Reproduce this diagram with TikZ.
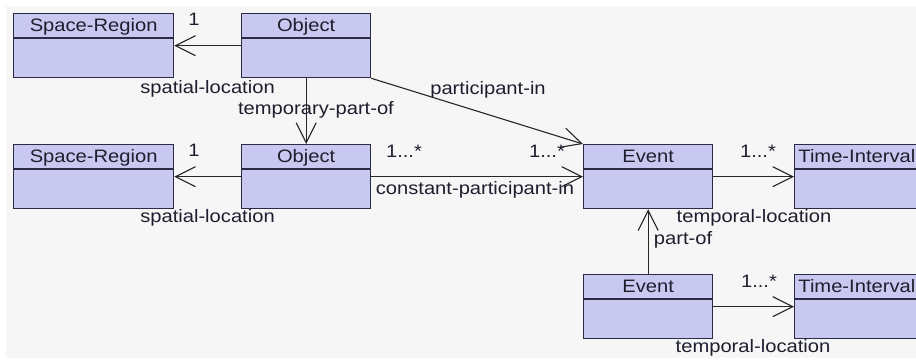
\documentclass[tikz,border=0pt]{standalone}
\usepackage{fontspec}
\setmainfont{Liberation Sans}[FakeStretch=1.12]
\usetikzlibrary{arrows.meta}
\definecolor{bg}{HTML}{F6F6F6}
\definecolor{boxfill}{RGB}{200,200,240}
\definecolor{boxline}{HTML}{2B2B45}
\definecolor{txtc}{HTML}{1E1E2E}
\begin{document}
\begin{tikzpicture}[x=1pt,y=-1pt,
  cls/.style={draw=boxline, fill=boxfill, line width=1.3pt, inner sep=0pt, anchor=north west, minimum height=64pt},
  hdrline/.style={draw=boxline, line width=1.3pt},
  title/.style={font=\fontsize{18}{20}\selectfont, text=txtc, inner sep=0pt, text height=12.9pt, text depth=3.8pt},
  lbl/.style={font=\fontsize{18}{20}\selectfont, text=txtc, inner sep=0pt, text height=12.9pt, text depth=3.8pt},
  assoc/.style={draw=black!85, line width=1.1pt, -{Straight Barb[length=20pt,width=20pt,line width=1.1pt]}},
]
\fill[white] (0,0) rectangle (916,359);
\fill[bg] (6,6) rectangle (916,358);
\useasboundingbox (0,0) rectangle (916,359);
\begin{scope}
\clip (0,0) rectangle (916,359);
% classes
\node[cls, minimum width=160pt] (sr1) at (13,13) {};
\node[cls, minimum width=129pt] (ob1) at (241,13) {};
\node[cls, minimum width=160pt] (sr2) at (13,144) {};
\node[cls, minimum width=129pt] (ob2) at (241,144) {};
\node[cls, minimum width=129pt] (ev1) at (583,144) {};
\node[cls, minimum width=136pt] (ti1) at (794,144) {};
\node[cls, minimum width=129pt] (ev2) at (583,274) {};
\node[cls, minimum width=136pt] (ti2) at (794,274) {};
% header lines and titles
\foreach \n/\t in {sr1/Space-Region, ob1/Object, sr2/Space-Region, ob2/Object, ev1/Event, ev2/Event}{
  \draw[hdrline] ([yshift=-25pt]\n.north west) -- ([yshift=-25pt]\n.north east);
  \node[title] at ([yshift=-13.5pt]\n.north) {\t};
}
\foreach \n in {ti1, ti2}{
  \draw[hdrline] ([yshift=-25pt]\n.north west) -- ([yshift=-25pt]\n.north east);
  \node[title, anchor=east] at ([yshift=-13.5pt]\n.north west -| 915.5,0) {Time-Interval};
}
% connectors
\draw[assoc] (ob1.west) -- (ob1.west -| sr1.east);
\draw[assoc] (ob2.west) -- (ob2.west -| sr2.east);
\draw[assoc] (ob1.south) -- (ob1.south |- ob2.north);
\draw[assoc] (ob1.south east) -- (ev1.north west);
\draw[assoc] (ob2.east) -- (ob2.east -| ev1.west);
\draw[assoc] (ev1.east) -- (ev1.east -| ti1.west);
\draw[assoc] (ev2.north) -- (ev2.north |- ev1.south);
\draw[assoc] (ev2.east) -- (ev2.east -| ti2.west);
\end{scope}
% labels
\node[lbl] (m1) at (194,21) {1};
\node[lbl] (l1) at (207.5,88.5) {spatial-location};
\node[lbl] (l2) at (316,109.5) {temporary-part-of};
\node[lbl] (l3) at (488,90) {participant-in};
\node[lbl] (m2) at (194,152) {1};
\node[lbl] (m3) at (404,153) {1...*};
\node[lbl] (m4) at (547,153) {1...*};
\node[lbl] (l4) at (475,190) {constant-participant-in};
\node[lbl] (l5) at (207.5,217.5) {spatial-location};
\node[lbl] (m5) at (758,153) {1...*};
\node[lbl] (l6) at (754,217.5) {temporal-location};
\node[lbl] (l7) at (683,240) {part-of};
\node[lbl] (m6) at (759,283) {1...*};
\node[lbl] (l8) at (753,347.5) {temporal-location};
\end{tikzpicture}
\end{document}
